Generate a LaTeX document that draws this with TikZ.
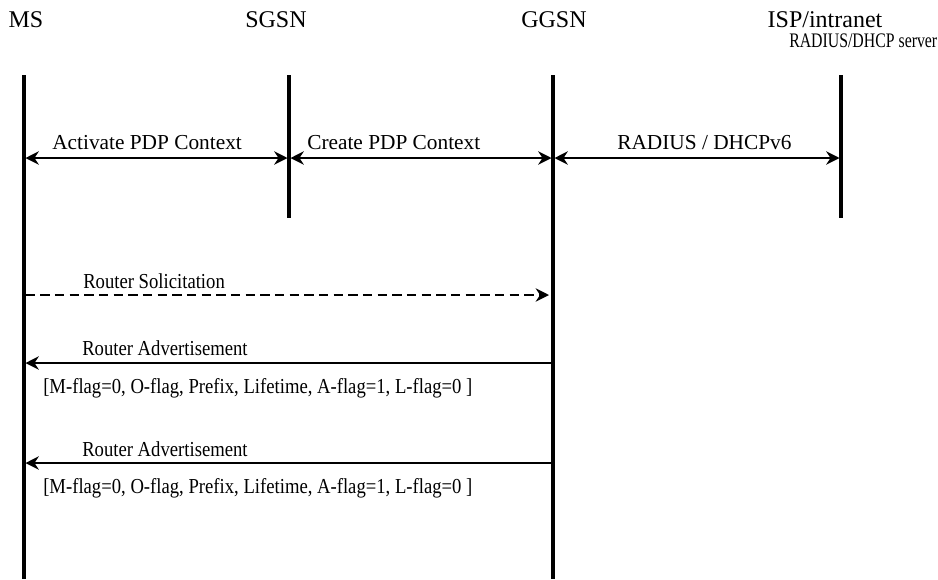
\documentclass[tikz,border=0pt]{standalone}
\usepackage{fontspec}
\usepackage{graphicx}
\setmainfont{Liberation Serif}
\usetikzlibrary{arrows.meta}
\newcommand{\cond}[1]{\scalebox{0.875}[1]{#1}}
\begin{document}
\begin{tikzpicture}[x=0.75pt,y=-0.75pt,
  hdr/.style={font=\fontsize{18}{20}\selectfont, inner sep=0pt},
  lbl/.style={font=\fontsize{16}{18}\selectfont, inner sep=0pt, anchor=west},
  slbl/.style={font=\fontsize{16}{18}\selectfont, inner sep=0pt, anchor=west},
  life/.style={line width=3pt},
  msg/.style={line width=1.2pt, -{Stealth[length=10pt,width=10pt]}},
  dmsg/.style={line width=1.2pt, {Stealth[length=10pt,width=10pt]}-{Stealth[length=10pt,width=10pt]}}]
\useasboundingbox (0,0) rectangle (938,579);
% headers
\node[hdr] (hms) at (26,20) {MS};
\node[hdr] (hsgsn) at (276,20) {SGSN};
\node[hdr] (hggsn) at (554,20) {GGSN};
\node[hdr] (hisp) at (825,20) {ISP/intranet};
\node[font=\fontsize{15.5}{17}\selectfont, inner sep=0pt, anchor=east] (hrad) at (937.5,41) {\scalebox{0.765}[1]{RADIUS/DHCP server}};
% lifelines
\coordinate (msT) at (24,75); \coordinate (msB) at (24,579);
\coordinate (sgT) at (289,75); \coordinate (sgB) at (289,218);
\coordinate (ggT) at (553,75); \coordinate (ggB) at (553,579);
\coordinate (isT) at (841,75); \coordinate (isB) at (841,218);
\draw[life] (msT) -- (msB);
\draw[life] (sgT) -- (sgB);
\draw[life] (ggT) -- (ggB);
\draw[life] (isT) -- (isB);
% PDP context messages
\coordinate (a1) at (25.5,158); \coordinate (a2) at (287.5,158);
\coordinate (b1) at (290.5,158); \coordinate (b2) at (551.5,158);
\coordinate (c1) at (554.5,158); \coordinate (c2) at (839.5,158);
\draw[dmsg] (a1) -- (a2);
\draw[dmsg] (b1) -- (b2);
\draw[dmsg] (c1) -- (c2);
\node[lbl] (l1) at (52,143) {Activate PDP Context};
\node[lbl] (l2) at (307,143) {Create PDP Context};
\node[lbl] (l3) at (617,143) {RADIUS / DHCPv6};
% router solicitation
\coordinate (rs1) at (25.5,295); \coordinate (rs2) at (549,295);
\draw[msg, dashed, dash pattern=on 7pt off 4pt] (rs1) -- (rs2);
\node[slbl] (l4) at (83,281) {\cond{Router Solicitation}};
% router advertisements
\coordinate (ra1s) at (551.5,363); \coordinate (ra1e) at (25.5,363);
\draw[msg] (ra1s) -- (ra1e);
\node[slbl] (l5) at (82,348) {\cond{Router Advertisement}};
\node[slbl] (l6) at (43,388) {\cond{[M-flag=0, O-flag, Prefix, Lifetime, A-flag=1, L-flag=0 ]}};
\coordinate (ra2s) at (551.5,463); \coordinate (ra2e) at (25.5,463);
\draw[msg] (ra2s) -- (ra2e);
\node[slbl] (l7) at (82,449) {\cond{Router Advertisement}};
\node[slbl] (l8) at (43,488) {\cond{[M-flag=0, O-flag, Prefix, Lifetime, A-flag=1, L-flag=0 ]}};
\end{tikzpicture}
\end{document}
